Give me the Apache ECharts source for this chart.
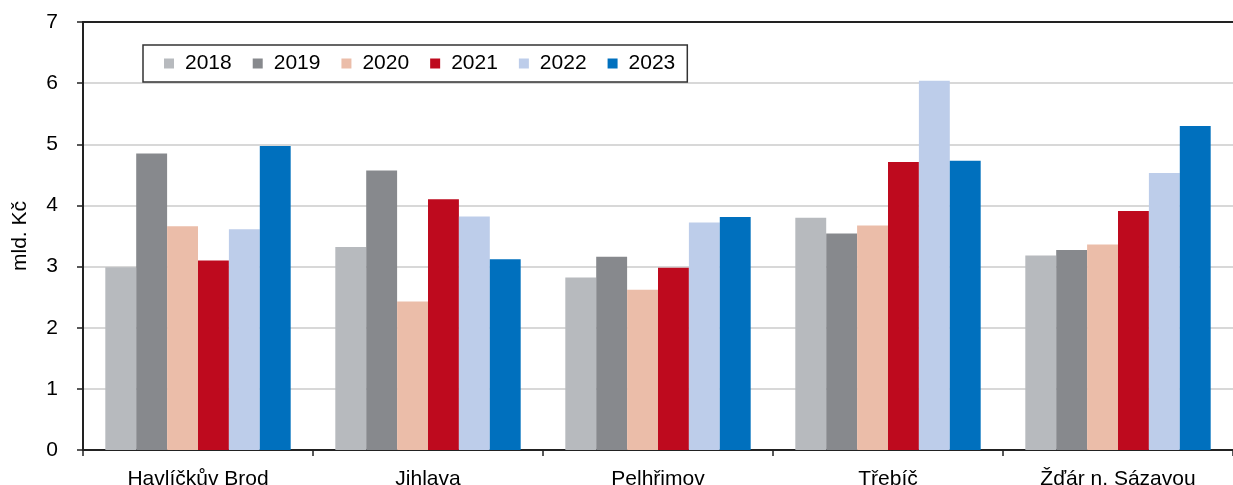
<!DOCTYPE html>
<html>
<head>
<meta charset="utf-8">
<script src="https://cdn.jsdelivr.net/npm/echarts@6/dist/echarts.min.js"></script>
<style>html,body{margin:0;padding:0;background:#fff;}#c{width:1233px;height:485px;}</style>
</head>
<body>
<div id="c"></div>
<script>
const categories = ['Havlíčkův Brod', 'Jihlava', 'Pelhřimov', 'Třebíč', 'Žďár n. Sázavou'];
const years = ['2018', '2019', '2020', '2021', '2022', '2023'];
const v2018 = [2.99, 3.32, 2.82, 3.80, 3.18];
const v2019 = [4.85, 4.57, 3.16, 3.54, 3.27];
const v2020 = [3.66, 2.43, 2.62, 3.67, 3.36];
const v2021 = [3.10, 4.10, 2.98, 4.71, 3.91];
const v2022 = [3.61, 3.82, 3.72, 6.04, 4.53];
const v2023 = [4.97, 3.12, 3.81, 4.73, 5.30];
const yTicks = [0, 1, 2, 3, 4, 5, 6, 7];

const values = [v2018, v2019, v2020, v2021, v2022, v2023];
const colors = ['#B7BABE', '#87898D', '#EBBDA9', '#BE0A1E', '#BDCDEA', '#0070BE'];
const font = 'Liberation Sans, Arial, sans-serif';

const chart = echarts.init(document.getElementById('c'), null, {renderer: 'canvas'});
chart.setOption({
  animation: false,
  textStyle: {fontFamily: font},
  grid: {left: 83, right: 0, top: 22, bottom: 35, containLabel: false, outerBoundsMode: 'none'},
  legend: {
    data: years,
    left: 143, top: 45,
    itemWidth: 10, itemHeight: 10, itemGap: 21,
    padding: [8, 12, 8, 21],
    borderColor: '#333', borderWidth: 1.5,
    backgroundColor: '#fff',
    icon: 'rect',
    textStyle: {fontSize: 21, color: '#000', fontFamily: font, padding: [0, 0, 0, 6]}
  },
  xAxis: [{
    type: 'category',
    data: categories,
    axisLine: {lineStyle: {color: '#222', width: 2}},
    axisTick: {show: true, length: 6, lineStyle: {color: '#222', width: 1.5}},
    axisLabel: {fontSize: 21, color: '#000', margin: 19, fontFamily: font},
    splitLine: {show: false}
  }, {
    type: 'category',
    position: 'top',
    data: categories,
    axisLine: {show: true, lineStyle: {color: '#222', width: 2}},
    axisTick: {show: false},
    axisLabel: {show: false},
    splitLine: {show: false}
  }],
  yAxis: {
    type: 'value',
    min: yTicks[0], max: yTicks[yTicks.length - 1], interval: 1,
    name: 'mld. Kč',
    nameLocation: 'middle',
    nameRotate: 90,
    nameGap: 52,
    nameTextStyle: {fontSize: 21, color: '#000', fontFamily: font},
    axisLine: {show: true, lineStyle: {color: '#222', width: 2}},
    axisTick: {show: true, length: 6, lineStyle: {color: '#222', width: 1.5}},
    axisLabel: {fontSize: 21, color: '#000', margin: 25, fontFamily: font},
    splitLine: {show: true, lineStyle: {color: '#CBCBCB', width: 1.5}}
  },
  series: years.map((y, i) => ({
    name: y,
    type: 'bar',
    data: values[i],
    barGap: '0%',
    barCategoryGap: '19.4%',
    itemStyle: {color: colors[i]},
    z: 2
  }))
});
</script>
</body>
</html>
